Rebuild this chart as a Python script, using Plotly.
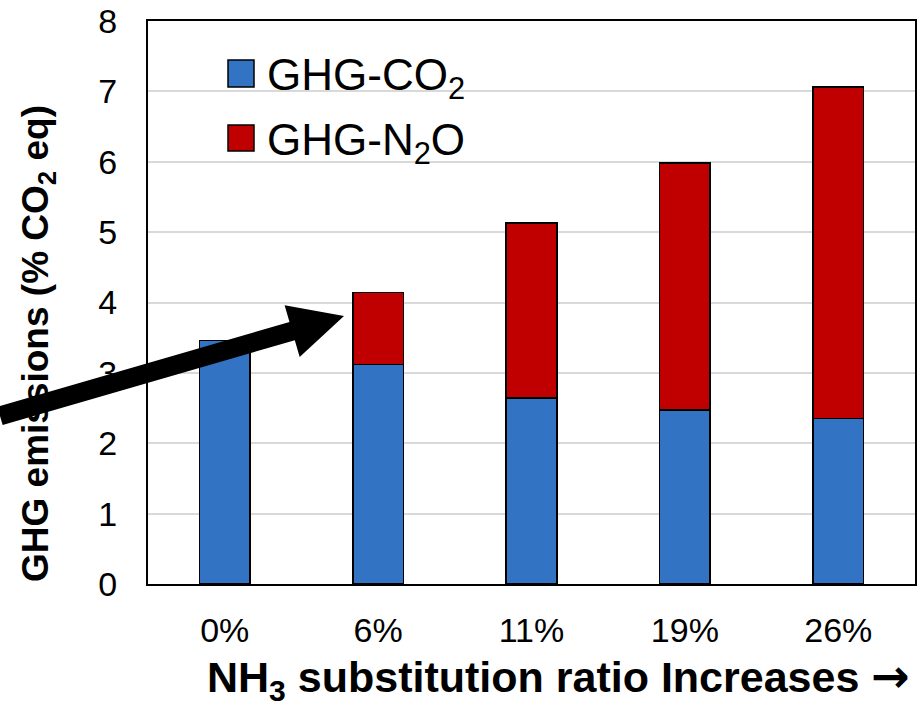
import numpy as np
import plotly.graph_objects as go

categories = ["0%", "6%", "11%", "19%", "26%"]
co2_values = [3.46, 3.12, 2.64, 2.47, 2.35]
n2o_values = [0.0, 1.02, 2.49, 3.51, 4.71]
y_ticks = [0, 1, 2, 3, 4, 5, 6, 7, 8]

W, H = 917, 706
ML, MR, MT, MB = 148, 2, 21, 122
PW, PH = W - ML - MR, H - MT - MB

def px(x):
    """page pixel x -> paper fraction"""
    return (x - ML) / PW

def py(y):
    """page pixel y -> paper fraction"""
    return (H - MB - y) / PH

FONT = "Liberation Sans, Arial, sans-serif"
BLUE = "#3273C4"
RED = "#C00000"

fig = go.Figure()
fig.add_trace(go.Bar(x=categories, y=co2_values, name="GHG-CO2",
                     marker=dict(color=BLUE, line=dict(color="black", width=1.6)),
                     showlegend=False))
fig.add_trace(go.Bar(x=categories, y=n2o_values, name="GHG-N2O",
                     marker=dict(color=RED, line=dict(color="black", width=1.6)),
                     showlegend=False))

fig.update_layout(
    width=W, height=H,
    margin=dict(l=ML, r=MR, t=MT, b=MB, autoexpand=False),
    barmode="stack", bargap=0.67,
    plot_bgcolor="white", paper_bgcolor="white",
    font=dict(family=FONT, color="black"),
    xaxis=dict(showline=True, linecolor="black", linewidth=2, mirror=True,
               ticks="", tickfont=dict(size=34, family=FONT), automargin=False,
               ticklabelstandoff=15, showgrid=False, ticklabeloverflow="allow"),
    yaxis=dict(range=[0, 8], tickvals=y_ticks, showline=True, linecolor="black",
               linewidth=2, mirror=True, ticks="", tickfont=dict(size=34, family=FONT),
               ticklabelstandoff=22, showgrid=True, gridcolor="#D9D9D9", gridwidth=2,
               zeroline=False, automargin=False, ticklabeloverflow="allow"),
)

# Axis titles
fig.add_annotation(text="<b>NH<sub>3</sub> substitution ratio Increases "
                        "<span style='font-family:DejaVu Sans;font-size:46px'>\u2192</span></b>",
                   xref="paper", yref="paper", x=px(558), y=py(709),
                   xanchor="center", yanchor="bottom", showarrow=False,
                   font=dict(size=43, family=FONT, color="black"))
fig.add_annotation(text="<b>GHG emissions (% CO<sub>2</sub> eq)</b>",
                   xref="paper", yref="paper", x=px(38), y=py(344),
                   xanchor="center", yanchor="middle", textangle=-90, showarrow=False,
                   font=dict(size=37, family=FONT, color="black"))

# Legend (custom, to match large swatches)
legend_items = [("GHG-CO<sub>2</sub>", BLUE, 60, 87), ("GHG-N<sub>2</sub>O", RED, 125, 151)]
for label, color, y0, y1 in legend_items:
    fig.add_shape(type="rect", xref="paper", yref="paper",
                  x0=px(228), x1=px(254), y0=py(y1), y1=py(y0),
                  fillcolor=color, line=dict(color="black", width=1.5))
    fig.add_annotation(text=label, xref="paper", yref="paper",
                       x=px(265), y=py((y0 + y1) / 2 + 5), xanchor="left", yanchor="middle",
                       showarrow=False, font=dict(size=44, family=FONT, color="black"))

# Arrow annotation drawn as a filled polygon
tail = np.array([0.0, 416.0])
tip = np.array([344.0, 316.0])
d = (tip - tail) / np.linalg.norm(tip - tail)
n = np.array([-d[1], d[0]])
shaft_half, head_len, head_half = 9.5, 54.0, 27.0
base = tip - d * head_len
pts = [tail + n * shaft_half, base + n * shaft_half, base + n * head_half, tip,
       base - n * head_half, base - n * shaft_half, tail - n * shaft_half]
path = "M " + " L ".join(f"{px(p[0]):.5f},{py(p[1]):.5f}" for p in pts) + " Z"
fig.add_shape(type="path", xref="paper", yref="paper", path=path,
              fillcolor="black", line=dict(color="black", width=0), layer="above")

fig.write_html("out.html",
               config={"displayModeBar": False},
               post_script="document.body.style.margin='0px';"
                           "document.documentElement.style.overflow='hidden';")
